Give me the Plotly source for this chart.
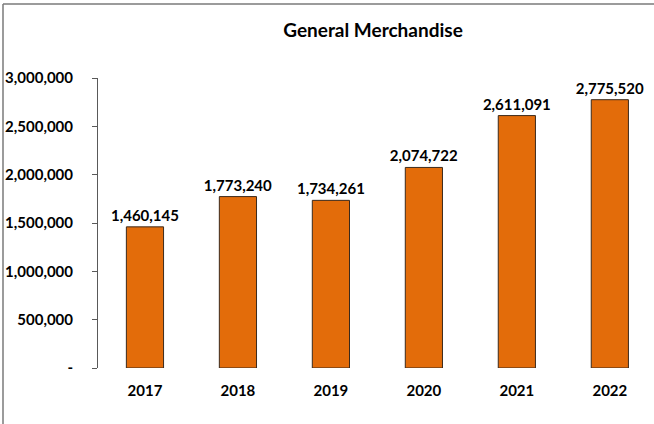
import plotly.graph_objects as go

years = ["2017", "2018", "2019", "2020", "2021", "2022"]
values = [1460145, 1773240, 1734261, 2074722, 2611091, 2775520]
y_tick_vals = [0, 500000, 1000000, 1500000, 2000000, 2500000, 3000000]
y_tick_text = ["-", "500,000", "1,000,000", "1,500,000", "2,000,000", "2,500,000", "3,000,000"]

FONT = "Lato"
BORDER = "#7a7a7a"

fig = go.Figure(go.Bar(
    x=years, y=values,
    marker=dict(color="#E36C0A", line=dict(color="#3b2a1c", width=1)),
    text=[f"{v:,}" for v in values],
    textposition="outside",
    constraintext="none",
    textfont=dict(family=FONT, size=15, color="#000000", weight="bold"),
    cliponaxis=False,
    width=0.4,
))

fig.update_layout(
    width=654, height=424,
    margin=dict(l=98, r=0, t=78, b=56),
    paper_bgcolor="white", plot_bgcolor="white",
    showlegend=False,
    title=dict(text="<b>General Merchandise</b>", x=373/654, xanchor="center",
               y=1 - 30/424, yanchor="middle",
               font=dict(family=FONT, size=19, color="#000000")),
    font=dict(family=FONT, color="#000000"),
    xaxis=dict(type="category", range=[-0.505, 5.475], showline=False, showgrid=False,
               ticks="", tickfont=dict(family=FONT, size=15, color="#000000", weight="bold"),
               ticklabelstandoff=12),
    yaxis=dict(range=[0, 3000000], tickvals=y_tick_vals, ticktext=y_tick_text,
               showgrid=False, zeroline=False, showline=True, linecolor="#595959", linewidth=1,
               ticks="outside", ticklen=5, tickcolor="#595959",
               tickfont=dict(family=FONT, size=15, color="#000000", weight="bold"),
               ticklabelstandoff=16),
    shapes=[
        dict(type="line", xref="paper", yref="paper",
             x0=-95/556, x1=1.0, y0=1 + 74/290, y1=1 + 74/290,
             line=dict(color=BORDER, width=1.5), layer="above"),
        dict(type="line", xref="paper", yref="paper",
             x0=-95/556, x1=-95/556, y0=-56/290, y1=1 + 74/290,
             line=dict(color=BORDER, width=1.5), layer="above"),
    ],
)

fig.write_html("out.html", config={"displayModeBar": False},
               post_script="document.body.style.margin='0';document.body.style.overflow='hidden';")
